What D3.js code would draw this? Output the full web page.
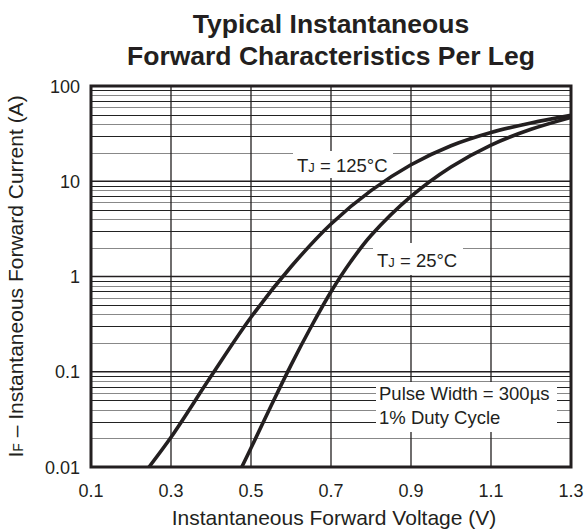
<!DOCTYPE html>
<html><head><meta charset="utf-8">
<script src="https://cdn.jsdelivr.net/npm/d3@7"></script>
<style>body{margin:0;background:#fff}svg{display:block}</style>
</head><body>
<script>
const titleLines = ["Typical Instantaneous", "Forward Characteristics Per Leg"];
const xTicks = [0.1, 0.3, 0.5, 0.7, 0.9, 1.1, 1.3];
const yTicks = [0.01, 0.1, 1, 10, 100];
const yTickLabels = ["0.01", "0.1", "1", "10", "100"];
const v125 = [0.245, 0.3, 0.4, 0.5, 0.6, 0.7, 0.8, 0.9, 1.0, 1.1, 1.2, 1.3];
const i125 = [0.01, 0.0205, 0.0895, 0.373, 1.265, 3.56, 7.98, 14.9, 23.6, 32.5, 40.9, 49.2];
const v25 = [0.477, 0.5, 0.55, 0.6, 0.65, 0.7, 0.75, 0.8, 0.9, 1.0, 1.1, 1.2, 1.3];
const i25 = [0.01, 0.0158, 0.0437, 0.1175, 0.295, 0.692, 1.445, 2.69, 6.92, 14.1, 24, 35.1, 46.8];

const W = 587, H = 532;
const m = {l: 91, r: 16, t: 86, b: 65};
const svg = d3.select("body").append("svg").attr("width", W).attr("height", H);
const font = "Liberation Sans, Arial, sans-serif";
const x = d3.scaleLinear().domain([0.1, 1.3]).range([m.l, W - m.r]);
const y = d3.scaleLog().domain([0.01, 100]).range([H - m.b, m.t]);
const ink = "#231f20";

// title
svg.append("g").selectAll("text").data(titleLines).join("text")
  .attr("x", (m.l + W - m.r) / 2).attr("y", (d, i) => 33 + i * 32)
  .attr("text-anchor", "middle").attr("font-family", font)
  .attr("font-weight", "bold").attr("font-size", 26.5).attr("fill", ink).text(d => d);

// grid horizontals
const minors = [];
[0.01, 0.1, 1, 10].forEach(d => { for (let k = 2; k <= 9; k++) minors.push(d * k); });
svg.append("g").selectAll("line").data(minors).join("line")
  .attr("x1", x(0.1)).attr("x2", x(1.3))
  .attr("y1", d => Math.round(y(d)) + 0.5).attr("y2", d => Math.round(y(d)) + 0.5)
  .attr("stroke", (d, i) => (i % 2 ? "#222" : "#888")).attr("stroke-width", 1.2);
svg.append("g").selectAll("line").data(yTicks).join("line")
  .attr("x1", x(0.1)).attr("x2", x(1.3))
  .attr("y1", d => y(d)).attr("y2", d => y(d))
  .attr("stroke", ink).attr("stroke-width", 1.3);
// grid verticals
svg.append("g").selectAll("line").data(xTicks).join("line")
  .attr("x1", d => x(d)).attr("x2", d => x(d))
  .attr("y1", y(100)).attr("y2", y(0.01))
  .attr("stroke", ink).attr("stroke-width", 1.3);

// label boxes
function box(x0, y0, w, h) {
  svg.append("rect").attr("x", x0).attr("y", y0).attr("width", w).attr("height", h).attr("fill", "#fff");
}
box(293, 151, 100, 27);
box(373, 243, 90, 32);
box(376, 382, 181, 50);

// curves
const line = d3.line().x(d => x(d[0])).y(d => y(d[1])).curve(d3.curveCatmullRom.alpha(0.5));
svg.append("clipPath").attr("id", "c").append("rect")
  .attr("x", x(0.1)).attr("y", y(100)).attr("width", x(1.3) - x(0.1)).attr("height", y(0.01) - y(100));
[[v125, i125], [v25, i25]].forEach(([vs, is]) => {
  svg.append("path").datum(vs.map((v, k) => [v, is[k]]))
    .attr("d", line).attr("fill", "none").attr("stroke", ink).attr("stroke-width", 3.6)
    .attr("clip-path", "url(#c)");
});

// frame
svg.append("rect").attr("x", x(0.1)).attr("y", y(100))
  .attr("width", x(1.3) - x(0.1)).attr("height", y(0.01) - y(100))
  .attr("fill", "none").attr("stroke", ink).attr("stroke-width", 3);

// annotations
function tj(xp, yp, val) {
  const t = svg.append("text").attr("x", xp).attr("y", yp).attr("font-family", font)
    .attr("font-size", 18.5).attr("fill", ink);
  t.append("tspan").text("T");
  t.append("tspan").attr("font-size", 13).text("J");
  t.append("tspan").text(" = " + val + "°C");
}
tj(297, 172, "125");
tj(377, 267, "25");
svg.append("text").attr("x", 379).attr("y", 400).attr("font-family", font)
  .attr("font-size", 18.5).attr("fill", ink).text("Pulse Width = 300µs");
svg.append("text").attr("x", 379).attr("y", 424).attr("font-family", font)
  .attr("font-size", 18.5).attr("fill", ink).text("1% Duty Cycle");

// axes tick labels
svg.append("g").selectAll("text").data(xTicks).join("text")
  .attr("x", d => x(d)).attr("y", 497).attr("text-anchor", "middle")
  .attr("font-family", font).attr("font-size", 18).attr("fill", ink).text(d => d3.format(".1f")(d));
svg.append("g").selectAll("text").data(yTicks).join("text")
  .attr("x", 80).attr("y", d => y(d) + 6.5).attr("text-anchor", "end")
  .attr("font-family", font).attr("font-size", 18).attr("fill", ink).text((d, i) => yTickLabels[i]);

// axis titles
svg.append("text").attr("x", (m.l + W - m.r) / 2 + 3).attr("y", 525).attr("text-anchor", "middle")
  .attr("font-family", font).attr("font-size", 21).attr("fill", ink).text("Instantaneous Forward Voltage (V)");
const yl = svg.append("text").attr("transform", `translate(23,${(y(100) + y(0.01)) / 2}) rotate(-90)`)
  .attr("text-anchor", "middle").attr("font-family", font).attr("font-size", 21).attr("fill", ink);
yl.append("tspan").text("I");
yl.append("tspan").attr("font-size", 14).text("F");
yl.append("tspan").text(" – Instantaneous Forward Current (A)");
</script>
</body></html>
